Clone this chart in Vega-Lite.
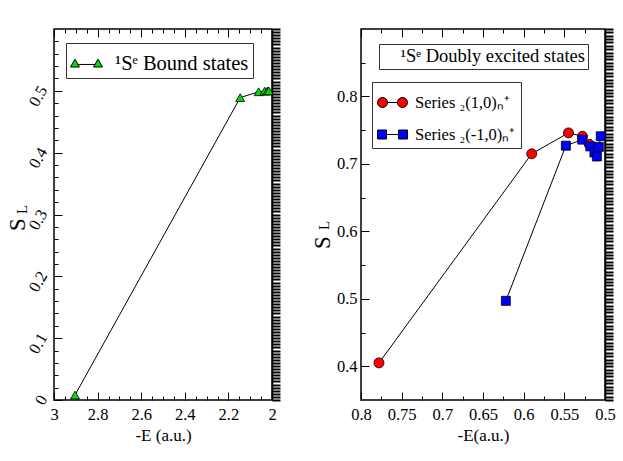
{
  "$schema": "https://vega.github.io/schema/vega-lite/v6.json",
  "padding": {"left": 5, "top": 27, "right": 0, "bottom": 0},
  "datasets": {
    "bound": [
      {"E": 2.9037, "S": 0.008, "series": "¹Sᵉ Bound states"},
      {"E": 2.1459, "S": 0.489, "series": "¹Sᵉ Bound states"},
      {"E": 2.0613, "S": 0.4985, "series": "¹Sᵉ Bound states"},
      {"E": 2.0336, "S": 0.4995, "series": "¹Sᵉ Bound states"},
      {"E": 2.0212, "S": 0.4998, "series": "¹Sᵉ Bound states"},
      {"E": 2.0146, "S": 0.4999, "series": "¹Sᵉ Bound states"}
    ],
    "excited": [
      {"E": 0.7779, "S": 0.405, "series": "Series ₂(1,0)ₙ⁺"},
      {"E": 0.5901, "S": 0.715, "series": "Series ₂(1,0)ₙ⁺"},
      {"E": 0.5449, "S": 0.746, "series": "Series ₂(1,0)ₙ⁺"},
      {"E": 0.5277, "S": 0.741, "series": "Series ₂(1,0)ₙ⁺"},
      {"E": 0.5193, "S": 0.729, "series": "Series ₂(1,0)ₙ⁺"},
      {"E": 0.6219, "S": 0.497, "series": "Series ₂(-1,0)ₙ⁺"},
      {"E": 0.5481, "S": 0.727, "series": "Series ₂(-1,0)ₙ⁺"},
      {"E": 0.528, "S": 0.736, "series": "Series ₂(-1,0)ₙ⁺"},
      {"E": 0.5181, "S": 0.726, "series": "Series ₂(-1,0)ₙ⁺"},
      {"E": 0.513, "S": 0.717, "series": "Series ₂(-1,0)ₙ⁺"},
      {"E": 0.51, "S": 0.711, "series": "Series ₂(-1,0)ₙ⁺"},
      {"E": 0.5076, "S": 0.725, "series": "Series ₂(-1,0)ₙ⁺"},
      {"E": 0.5052, "S": 0.741, "series": "Series ₂(-1,0)ₙ⁺"}
    ],
    "caption": [
      {"note": "¹Sᵉ Doubly excited states"}
    ]
  },
  "spacing": 28,
  "hconcat": [
    {
      "width": 218,
      "height": 371,
      "data": {"name": "bound"},
      "layer": [
        {
          "mark": {"type": "line", "color": "black", "strokeWidth": 1},
          "encoding": {
            "x": {
              "field": "E", "type": "quantitative",
              "scale": {"domain": [2, 3], "reverse": true, "nice": false, "zero": false},
              "axis": {"orient": "bottom", "title": "-E (a.u.)", "values": [2, 2.2, 2.4, 2.6, 2.8, 3], "format": "~g", "tickSize": -8, "labelPadding": 14, "titlePadding": 5}
            },
            "y": {
              "field": "S", "type": "quantitative",
              "scale": {"domain": [0, 0.6], "nice": false, "zero": false},
              "axis": {"orient": "left", "title": "S", "values": [0, 0.1, 0.2, 0.3, 0.4, 0.5], "format": "~g", "tickSize": -8, "labelPadding": 12, "labelAngle": -60, "titleX": -37, "titleY": 195, "titleFontSize": 23, "titleAngle": -90, "titleAlign": "center", "titleBaseline": "middle"}
            }
          }
        },
        {
          "mark": {"type": "point", "shape": "triangle-up", "filled": true, "size": 81, "opacity": 1, "stroke": "black", "strokeWidth": 0.8},
          "encoding": {
            "x": {
              "field": "E", "type": "quantitative",
              "axis": {"orient": "bottom", "title": null, "labels": false, "tickSize": -4, "values": [2, 2.05, 2.1, 2.15, 2.2, 2.25, 2.3, 2.35, 2.4, 2.45, 2.5, 2.55, 2.6, 2.65, 2.7, 2.75, 2.8, 2.85, 2.9, 2.95, 3]}
            },
            "y": {
              "field": "S", "type": "quantitative",
              "axis": {"orient": "left", "title": null, "labels": false, "tickSize": -4, "values": [0.02, 0.04, 0.06, 0.08, 0.12, 0.14, 0.16, 0.18, 0.22, 0.24, 0.26, 0.28, 0.32, 0.34, 0.36, 0.38, 0.42, 0.44, 0.46, 0.48, 0.52, 0.54, 0.56, 0.58]}
            },
            "color": {
              "field": "series", "type": "nominal",
              "scale": {"range": ["#00dd00"]},
              "legend": {
                "title": null, "orient": "none", "legendX": 12, "legendY": 14,
                "labelFontSize": 20.5, "symbolSize": 1024, "labelOffset": 12, "padding": 4,
                "symbolType": "M-1,0.22L-0.72,-0.27L-0.44,0.22ZM0.44,0.22L0.72,-0.27L1,0.22ZM-0.55,0.06L0.55,0.06",
                "symbolStrokeColor": "black", "symbolStrokeWidth": 1
              }
            }
          }
        },
        {
          "mark": {"type": "point", "opacity": 0},
          "encoding": {
            "x": {
              "field": "E", "type": "quantitative",
              "axis": {"orient": "top", "title": null, "labels": false, "tickSize": -8, "values": [2, 2.2, 2.4, 2.6, 2.8, 3]}
            },
            "y": {
              "field": "S", "type": "quantitative",
              "axis": {"orient": "right", "labels": false, "tickCount": 100, "tickSize": 8, "tickWidth": 2, "domain": true, "domainColor": "black", "domainWidth": 1.5, "title": "L", "titleX": -251, "titleY": 180, "titleFontSize": 15, "titleAngle": -90, "titleAlign": "center", "titleBaseline": "middle"}
            }
          }
        },
        {
          "mark": {"type": "point", "opacity": 0},
          "encoding": {
            "x": {
              "field": "E", "type": "quantitative",
              "axis": {"orient": "top", "title": null, "labels": false, "tickSize": -4, "values": [2.05, 2.1, 2.15, 2.25, 2.3, 2.35, 2.45, 2.5, 2.55, 2.65, 2.7, 2.75, 2.85, 2.9, 2.95]}
            },
            "y": {"field": "S", "type": "quantitative", "axis": null}
          }
        }
      ],
      "resolve": {"axis": {"x": "independent", "y": "independent"}}
    },
    {
      "width": 244,
      "height": 371,
      "data": {"name": "excited"},
      "layer": [
        {
          "mark": {"type": "line", "color": "black", "strokeWidth": 1},
          "encoding": {
            "detail": {"field": "series"},
            "x": {
              "field": "E", "type": "quantitative",
              "scale": {"domain": [0.5, 0.8], "reverse": true, "nice": false, "zero": false},
              "axis": {"orient": "bottom", "title": "-E(a.u.)", "values": [0.5, 0.55, 0.6, 0.65, 0.7, 0.75, 0.8], "format": "~g", "tickSize": -8, "labelPadding": 14, "titlePadding": 5}
            },
            "y": {
              "field": "S", "type": "quantitative",
              "scale": {"domain": [0.35, 0.9], "nice": false, "zero": false},
              "axis": {"orient": "left", "title": "S", "values": [0.4, 0.5, 0.6, 0.7, 0.8], "format": "~g", "tickSize": -8, "labelPadding": 12, "titleX": -39, "titleY": 213, "titleFontSize": 23, "titleAngle": -90, "titleAlign": "center", "titleBaseline": "middle"}
            }
          }
        },
        {
          "transform": [{"filter": "indexof(datum.series, '-') < 0"}],
          "mark": {"type": "point", "shape": "circle", "size": 100, "filled": true, "opacity": 1, "stroke": "black", "strokeWidth": 0.8},
          "encoding": {
            "x": {
              "field": "E", "type": "quantitative",
              "axis": {"orient": "bottom", "title": null, "labels": false, "tickSize": -4, "values": [0.525, 0.575, 0.625, 0.675, 0.725, 0.775]}
            },
            "y": {
              "field": "S", "type": "quantitative",
              "axis": {"orient": "left", "title": null, "labels": false, "tickSize": -4, "values": [0.45, 0.55, 0.65, 0.75, 0.85]}
            },
            "color": {
              "field": "series", "type": "nominal",
              "scale": {"domain": ["Series ₂(1,0)ₙ⁺", "Series ₂(-1,0)ₙ⁺"], "range": ["#ff0000", "#0000ff"]},
              "legend": {
                "title": null, "orient": "none", "legendX": 11, "legendY": 53,
                "labelFontSize": 16.5, "symbolSize": 900, "labelOffset": 7, "rowPadding": 8,
                "symbolStrokeColor": "black", "symbolStrokeWidth": 1,
                "symbolType": {"expr": "indexof(datum.value, '-') < 0 ? 'M-0.333,0A0.333,0.333 0 1 1 -1,0A0.333,0.333 0 1 1 -0.333,0ZM1,0A0.333,0.333 0 1 1 0.333,0A0.333,0.333 0 1 1 1,0ZM-0.333,0L0.333,0' : 'M-1,-0.3H-0.4V0.3H-1ZM0.4,-0.3H1V0.3H0.4ZM-0.4,0L0.4,0'"}
              }
            }
          }
        },
        {
          "transform": [{"filter": "indexof(datum.series, '-') >= 0"}],
          "mark": {"type": "point", "shape": "square", "size": 81, "filled": true, "opacity": 1, "stroke": "black", "strokeWidth": 0.8},
          "encoding": {
            "x": {"field": "E", "type": "quantitative", "axis": null},
            "y": {"field": "S", "type": "quantitative", "axis": null},
            "color": {"field": "series", "type": "nominal"}
          }
        },
        {
          "mark": {"type": "point", "opacity": 0},
          "encoding": {
            "x": {
              "field": "E", "type": "quantitative",
              "axis": {"orient": "top", "title": null, "labels": false, "tickSize": -8, "values": [0.5, 0.55, 0.6, 0.65, 0.7, 0.75, 0.8]}
            },
            "y": {
              "field": "S", "type": "quantitative",
              "axis": {"orient": "right", "labels": false, "tickCount": 100, "tickSize": 8, "tickWidth": 2, "domain": true, "domainColor": "black", "domainWidth": 1.5, "title": "L", "titleX": -282, "titleY": 196, "titleFontSize": 15, "titleAngle": -90, "titleAlign": "center", "titleBaseline": "middle"}
            }
          }
        },
        {
          "mark": {"type": "point", "opacity": 0},
          "encoding": {
            "x": {
              "field": "E", "type": "quantitative",
              "axis": {"orient": "top", "title": null, "labels": false, "tickSize": -4, "values": [0.525, 0.575, 0.625, 0.675, 0.725, 0.775]}
            },
            "y": {"field": "S", "type": "quantitative", "axis": null}
          }
        },
        {
          "data": {"name": "caption"},
          "mark": {"type": "point", "opacity": 0},
          "encoding": {
            "fill": {
              "field": "note", "type": "nominal",
              "scale": {"range": ["white"]},
              "legend": {"title": null, "orient": "none", "legendX": 18, "legendY": 15, "labelFontSize": 18.5, "labelLimit": 400, "symbolSize": 0, "symbolOpacity": 0, "labelOffset": 0, "padding": 3}
            }
          }
        }
      ],
      "resolve": {"axis": {"x": "independent", "y": "independent"}}
    }
  ],
  "resolve": {"scale": {"color": "independent", "fill": "independent"}},
  "config": {
    "font": "Liberation Serif",
    "view": {"stroke": "black", "strokeWidth": 1.5},
    "style": {
      "guide-label": {"font": "Liberation Serif", "fontSize": 16, "fill": "black"},
      "guide-title": {"font": "Liberation Serif", "fontSize": 17, "fill": "black", "fontWeight": "normal"}
    },
    "axis": {
      "domain": false, "grid": false, "tickColor": "black", "tickWidth": 1,
      "labelColor": "black", "titleColor": "black", "labelFont": "Liberation Serif", "titleFont": "Liberation Serif",
      "labelFontSize": 16.5, "titleFontSize": 17, "titleFontWeight": "normal",
      "labelFlush": false, "labelOverlap": false
    },
    "legend": {
      "labelFont": "Liberation Serif", "labelColor": "black", "strokeColor": "#333",
      "fillColor": "white", "padding": 5
    }
  }
}
